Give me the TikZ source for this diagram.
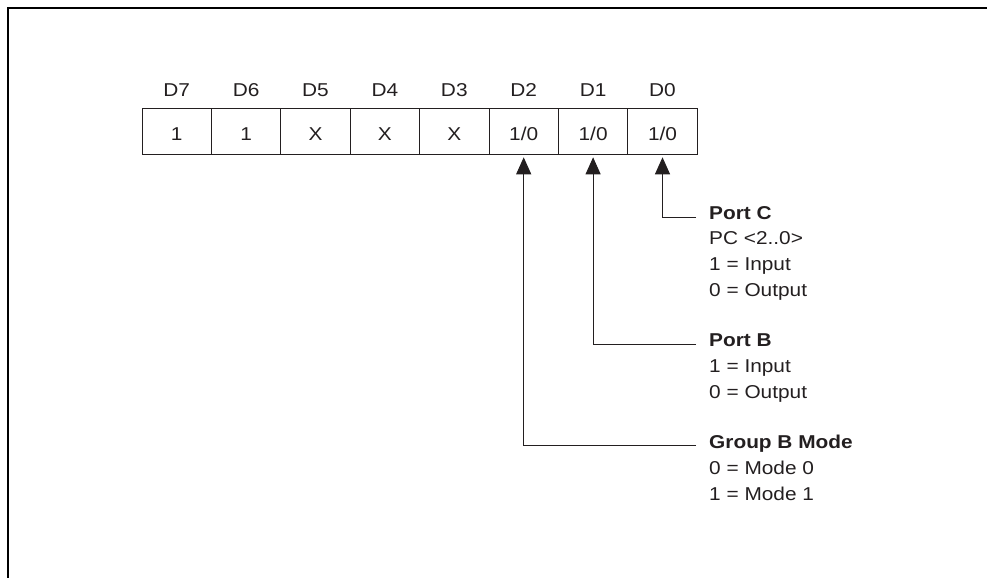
\documentclass[tikz,border=0pt]{standalone}
\usepackage{fontspec}
\setmainfont{Liberation Sans}[FakeStretch=1.12]
\usetikzlibrary{arrows.meta}
\definecolor{ink}{HTML}{231F20}
\begin{document}
\begin{tikzpicture}[x=1pt,y=-1pt,
  txt/.style={font=\fontsize{18.6pt}{22pt}\selectfont, text=ink, inner sep=0pt},
  cell/.style={txt, draw=ink, line width=1pt, minimum width=69.4pt, minimum height=46pt,
    text height=17.4pt, text depth=0pt, anchor=center},
  head/.style={txt, anchor=base},
  ttl/.style={txt, font=\fontsize{18.6pt}{22pt}\selectfont\bfseries, anchor=base west},
  bodyline/.style={txt, anchor=base west},
  conn/.style={draw=ink, line width=1pt, -{Triangle[length=17pt,width=15pt]}, shorten >=2.5pt},
  frame/.style={draw=black, line width=2pt}
]
\useasboundingbox (0,0) rectangle (987,578);
\draw[frame] (987,8) -- (8,8) -- (8,578);

% cells
\foreach \i/\t/\n in {0/1/7, 1/1/6, 2/X/5, 3/X/4, 4/X/3, 5/1\slash 0/2, 6/1\slash 0/1, 7/1\slash 0/0} {
  \node[cell] (c\n) at ({176.7+69.4*\i},131.3) {\t};
  \node[head] (h\n) at ({176.7+69.4*\i},96.7) {D\n};
}

% Port C
\node[ttl] (portC) at (709,219) {Port C};
\node[bodyline] (pc1) at (709,244.7) {PC <2..0>};
\node[bodyline] (pc2) at (709,270.4) {1 = Input};
\node[bodyline] (pc3) at (709,296) {0 = Output};
\coordinate (pcl) at (696,217);
\draw[conn] (pcl) -| (c0.south);

% Port B
\node[ttl] (portB) at (709,346.7) {Port B};
\node[bodyline] (pb1) at (709,372.4) {1 = Input};
\node[bodyline] (pb2) at (709,398) {0 = Output};
\coordinate (pbl) at (696,344);
\draw[conn] (pbl) -| (c1.south);

% Group B Mode
\node[ttl] (grpB) at (709,448.5) {Group B Mode};
\node[bodyline] (gb1) at (709,474) {0 = Mode 0};
\node[bodyline] (gb2) at (709,500) {1 = Mode 1};
\coordinate (gbl) at (696,445);
\draw[conn] (gbl) -| (c2.south);
\end{tikzpicture}
\end{document}
